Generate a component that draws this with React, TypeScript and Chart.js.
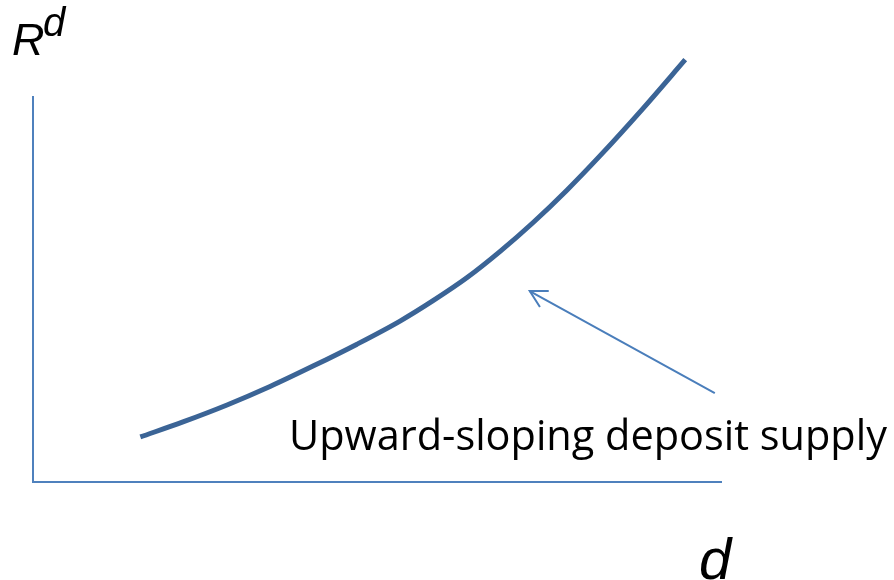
import React, { useEffect, useRef } from "react";
import { Chart, registerables } from "chart.js";

Chart.register(...registerables);

// Supply curve (data units: x 0..100 along d-axis, y 0..100 along R^d axis)
const curveX = [15.6, 21.8, 28.2, 34.45, 40.7, 47.1, 53.35, 58.15, 63.1, 67.9, 72.7, 77.6, 82.4, 88.65, 94.8];
const curveY = [11.7, 15.6, 20.0, 24.8, 30.1, 35.8, 41.8, 47.1, 53.1, 59.9, 67.4, 75.8, 84.7, 97.0, 109.7];

// Annotation arrow: tail then tip
const arrowX = [99.1, 72.2];
const arrowY = [23.1, 49.6];

const annotationText = "Upward-sloping deposit supply";
const yAxisLabel = "R";
const yAxisSup = "d";
const xAxisLabel = "d";

const textPlugin = {
  id: "annotations",
  afterDatasetsDraw(chart: any) {
    const { ctx, scales } = chart;
    const xs = scales.x;
    const ys = scales.y;
    // arrowhead
    const tx = xs.getPixelForValue(arrowX[1]);
    const ty = ys.getPixelForValue(arrowY[1]);
    const sx = xs.getPixelForValue(arrowX[0]);
    const sy = ys.getPixelForValue(arrowY[0]);
    const ang = Math.atan2(sy - ty, sx - tx);
    const len = 19;
    const spread = 0.5;
    ctx.save();
    ctx.strokeStyle = "#4a7ebb";
    ctx.lineWidth = 2;
    ctx.lineCap = "butt";
    ctx.beginPath();
    ctx.moveTo(tx + len * Math.cos(ang - spread), ty + len * Math.sin(ang - spread));
    ctx.lineTo(tx, ty);
    ctx.lineTo(tx + len * Math.cos(ang + spread), ty + len * Math.sin(ang + spread));
    ctx.stroke();

    // annotation text, fitted to width
    ctx.fillStyle = "#000";
    ctx.textBaseline = "alphabetic";
    ctx.textAlign = "left";
    let size = 42;
    ctx.font = `${size}px "Open Sans"`;
    const w = ctx.measureText(annotationText).width;
    size = size * (598 / w);
    ctx.font = `${size}px "Open Sans"`;
    ctx.fillText(annotationText, 289, 450);

    // axis labels
    ctx.font = `italic 45px "Liberation Sans"`;
    ctx.fillText(yAxisLabel, 12, 55);
    ctx.font = `italic 40px "Liberation Sans"`;
    ctx.fillText(yAxisSup, 43, 36);
    ctx.font = `italic 58px "Liberation Sans"`;
    ctx.fillText(xAxisLabel, 699, 579);
    ctx.restore();
  },
};

export default function App() {
  const ref = useRef<HTMLCanvasElement | null>(null);
  useEffect(() => {
    document.body.style.margin = "0";
    const canvas = ref.current!;
    const chart = new Chart(canvas, {
      type: "scatter",
      data: {
        datasets: [
          {
            data: curveX.map((x, i) => ({ x, y: curveY[i] })),
            showLine: true,
            borderColor: "#3b6496",
            borderWidth: 5,
            pointRadius: 0,
            cubicInterpolationMode: "monotone",
            clip: false,
          } as any,
          {
            data: arrowX.map((x, i) => ({ x, y: arrowY[i] })),
            showLine: true,
            borderColor: "#4a7ebb",
            borderWidth: 2,
            pointRadius: 0,
            clip: false,
          } as any,
        ],
      },
      options: {
        responsive: false,
        animation: false,
        events: [],
        layout: { padding: { left: 33, top: 97, right: 173, bottom: 98 } },
        plugins: { legend: { display: false }, tooltip: { enabled: false } },
        scales: {
          x: {
            type: "linear",
            min: 0,
            max: 100,
            grid: { display: false, drawTicks: false },
            ticks: { display: false },
            border: { display: true, color: "#4f81bd", width: 2 },
          },
          y: {
            type: "linear",
            min: 0,
            max: 100,
            grid: { display: false, drawTicks: false },
            ticks: { display: false },
            border: { display: true, color: "#4f81bd", width: 2 },
          },
        },
      },
      plugins: [textPlugin],
    });
    return () => chart.destroy();
  }, []);
  return (
    <div style={{ width: 894, height: 580, background: "#fff" }}>
      <canvas ref={ref} width={894} height={580} style={{ display: "block" }} />
    </div>
  );
}
